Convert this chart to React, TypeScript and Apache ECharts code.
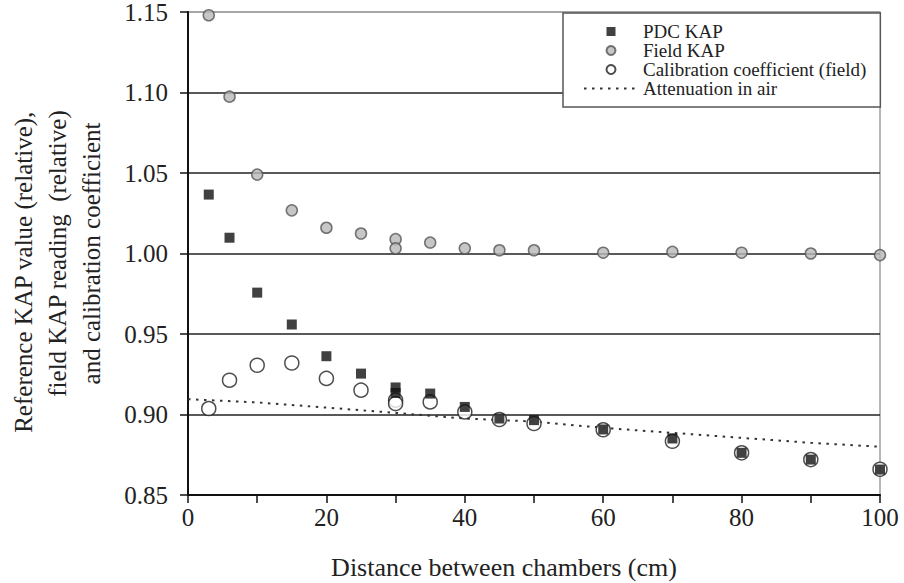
import React, { useEffect, useRef } from "react";
import * as echarts from "echarts";

const FONT = "Liberation Serif, Times New Roman, serif";

const distance = [3, 6, 10, 15, 20, 25, 30, 30, 35, 40, 45, 50, 60, 70, 80, 90, 100];
const pdcKap = [1.0366, 1.0098, 0.9757, 0.9559, 0.9362, 0.9254, 0.9168, 0.9134, 0.913, 0.9047, 0.8975, 0.8965, 0.8907, 0.8851, 0.8762, 0.872, 0.8658];
const fieldKap = [1.148, 1.0974, 1.049, 1.0268, 1.016, 1.0124, 1.0089, 1.0032, 1.0068, 1.0032, 1.002, 1.002, 1.0005, 1.001, 1.0005, 1.0, 0.999];
const calibCoeff = [0.9037, 0.9213, 0.9306, 0.932, 0.9224, 0.9151, 0.9089, 0.9068, 0.9078, 0.9016, 0.8969, 0.8944, 0.8905, 0.8834, 0.8762, 0.872, 0.866];
const attenDistance = [0, 10, 20, 30, 40, 50, 60, 70, 80, 90, 100];
const attenuation = [0.9095, 0.9075, 0.9043, 0.901, 0.8975, 0.8956, 0.8917, 0.8886, 0.8855, 0.8824, 0.88];

const seriesNames = ["PDC KAP", "Field KAP", "Calibration coefficient (field)", "Attenuation in air"];
const xTitle = "Distance between chambers (cm)";
const yTitle = "Reference KAP value (relative),      \nfield KAP reading  (relative)\nand calibration coefficient";

const pairs = (xs: number[], ys: number[]) => xs.map((x, i) => [x, ys[i]]);

export default function App() {
  const ref = useRef<HTMLDivElement>(null);
  useEffect(() => {
    document.body.style.margin = "0";
    const chart = echarts.init(ref.current!, null, { renderer: "svg" });
    chart.setOption({
      animation: false,
      backgroundColor: "#fff",
      textStyle: { fontFamily: FONT, color: "#222" },
      grid: {
        left: 188, right: 24, top: 12, bottom: 88,
        outerBoundsMode: "none", containLabel: false,
        show: true, borderColor: "#a0a0a0", borderWidth: 1.5, backgroundColor: "transparent",
      },
      legend: {
        orient: "vertical",
        left: 563, top: 13,
        padding: [9, 14, 9, 20],
        itemWidth: 54, itemHeight: 9, itemGap: 0,
        borderColor: "#555", borderWidth: 1.5, backgroundColor: "#fff",
        textStyle: { fontFamily: FONT, fontSize: 19, color: "#222", lineHeight: 19 },
        data: [
          { name: seriesNames[0], icon: "path://M0,0L10,0L10,10L0,10Z", itemStyle: { color: "#111" } },
          seriesNames[1],
          seriesNames[2],
          seriesNames[3],
        ],
      },
      xAxis: {
        type: "value", min: 0, max: 100, interval: 20,
        axisLine: { onZero: false, lineStyle: { color: "#111", width: 2 } },
        axisTick: { show: true, length: 8, lineStyle: { color: "#111", width: 1.5 } },
        minorTick: { show: true, splitNumber: 2, length: 8, lineStyle: { color: "#111", width: 1.5 } },
        splitLine: { show: false },
        axisLabel: { fontFamily: FONT, fontSize: 25, color: "#222", margin: 10 },
        name: xTitle, nameLocation: "middle", nameGap: 59,
        nameTextStyle: { fontFamily: FONT, fontSize: 26, color: "#222", padding: [0, 60, 0, 0] },
      },
      yAxis: {
        type: "value", min: 0.85, max: 1.15, interval: 0.05,
        axisLine: { onZero: false, lineStyle: { color: "#111", width: 2 } },
        axisTick: { show: true, length: 8, lineStyle: { color: "#111", width: 1.5 } },
        splitLine: {
          show: true,
          lineStyle: { color: ["#111", "#222", "#222", "#222", "#222", "#222", "#a0a0a0"], width: 1.5 },
        },
        axisLabel: {
          fontFamily: FONT, fontSize: 25, color: "#222", margin: 20,
          formatter: (v: number) => v.toFixed(2),
        },
        name: yTitle, nameLocation: "middle", nameGap: 80, nameRotate: 90,
        nameTextStyle: { fontFamily: FONT, fontSize: 25, color: "#222", lineHeight: 34, align: "center" },
      },
      series: [
        {
          name: seriesNames[0], type: "scatter", z: 5,
          symbol: "rect", symbolSize: 10,
          itemStyle: { color: "#111" },
          data: pairs(distance, pdcKap),
        },
        {
          name: seriesNames[1], type: "scatter", z: 4,
          symbol: "circle", symbolSize: 11,
          itemStyle: { color: "#b8b8b8", borderColor: "#555", borderWidth: 1.5 },
          data: pairs(distance, fieldKap),
        },
        {
          name: seriesNames[2], type: "scatter", z: 3,
          symbol: "circle", symbolSize: 14,
          itemStyle: { color: "#fff", borderColor: "#222", borderWidth: 1.5 },
          data: pairs(distance, calibCoeff),
        },
        {
          name: seriesNames[3], type: "line", z: 2,
          symbol: "none", showSymbol: false, symbolSize: 0,
          itemStyle: { color: "rgba(0,0,0,0)" },
          lineStyle: { type: [2.5, 5.5], color: "#333", width: 2 },
          data: pairs(attenDistance, attenuation),
        },
      ],
    });
    return () => chart.dispose();
  }, []);
  return <div ref={ref} style={{ width: 904, height: 583 }} />;
}
